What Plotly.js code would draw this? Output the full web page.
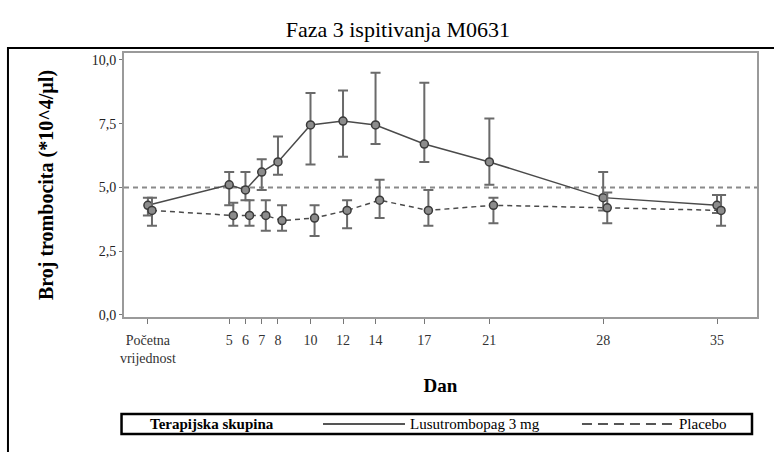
<!DOCTYPE html>
<html>
<head>
<meta charset="utf-8">
<script src="https://cdn.plot.ly/plotly-3.0.1.min.js"></script>
<style>html,body{margin:0;padding:0;background:#fff;}#chart{width:774px;height:452px;}</style>
</head>
<body>
<div id="chart"></div>
<script>
// Days of measurement (0 = baseline)
const days = [0, 5, 6, 7, 8, 10, 12, 14, 17, 21, 28, 35];
const dayLabels = ["Početna<br>vrijednost", "5", "6", "7", "8", "10", "12", "14", "17", "21", "28", "35"];

// Lusutrombopag 3 mg: mean, upper and lower error limits
const lusMean  = [4.3, 5.1, 4.9, 5.6, 6.0, 7.45, 7.6, 7.45, 6.7, 6.0, 4.6, 4.3];
const lusUpper = [4.6, 5.6, 5.6, 6.1, 7.0, 8.7, 8.8, 9.5, 9.1, 7.7, 5.6, 4.7];
const lusLower = [3.9, 4.3, 4.5, 4.9, 5.5, 5.9, 6.2, 6.7, 6.0, 5.1, 4.1, 4.0];

// Placebo: mean, upper and lower error limits
const plaMean  = [4.1, 3.9, 3.9, 3.9, 3.7, 3.8, 4.1, 4.5, 4.1, 4.3, 4.2, 4.1];
const plaUpper = [4.6, 4.4, 4.5, 4.5, 4.3, 4.3, 4.5, 5.3, 4.9, 4.6, 4.8, 4.7];
const plaLower = [3.5, 3.5, 3.5, 3.3, 3.3, 3.1, 3.4, 3.8, 3.5, 3.6, 3.6, 3.5];

const refLine = 5.0;
const yTicks = [0, 2.5, 5, 7.5, 10];
const yTickText = ["0,0", "2,5", "5,0", "7,5", "10,0"];

const seriesNames = ["Lusutrombopag 3 mg", "Placebo"];
const legendTitle = "Terapijska skupina";
const chartTitle = "Faza 3 ispitivanja M0631";
const xTitle = "Dan";
const yTitle = "Broj trombocita (*10^4/µl)";

const FONT = "'Liberation Serif', 'Times New Roman', serif";
const dodge = 0.25;

const errUp = (m, u) => u.map((v, i) => v - m[i]);
const errDn = (m, l) => l.map((v, i) => m[i] - v);

const markerStyle = {symbol: "circle", size: 8, color: "#8c8c8c", line: {color: "#3a3a3a", width: 1.5}};

const traces = [
  {
    x: days, y: lusMean, name: seriesNames[0], type: "scatter", mode: "lines+markers", showlegend: false,
    line: {color: "#4a4a4a", width: 1.5},
    marker: markerStyle,
    error_y: {type: "data", symmetric: false, array: errUp(lusMean, lusUpper), arrayminus: errDn(lusMean, lusLower),
              color: "#6a6a6a", thickness: 2, width: 5}
  },
  {
    x: days.map(d => d + dodge), y: plaMean, name: seriesNames[1], type: "scatter", mode: "lines+markers", showlegend: false,
    line: {color: "#4a4a4a", width: 1.5, dash: "5px,4px"},
    marker: markerStyle,
    error_y: {type: "data", symmetric: false, array: errUp(plaMean, plaUpper), arrayminus: errDn(plaMean, plaLower),
              color: "#6a6a6a", thickness: 2, width: 5}
  }
];

// Legend geometry (paper coordinates)
const LG = {x0: -0.0039, x1: 0.9921, yTop: -0.3674, yBot: -0.4432, yMid: -0.4053,
            titleX: 0.0379, solid: [0.3144, 0.4439], solidText: 0.4487, dashed: [0.7235, 0.8705], dashedText: 0.8736};

const layout = {
  width: 774, height: 452,
  margin: {l: 124, r: 17, t: 53, b: 135},
  paper_bgcolor: "#fff", plot_bgcolor: "#fff",
  font: {family: FONT, size: 14, color: "#000"},
  showlegend: false,
  title: {text: chartTitle, font: {family: FONT, size: 22, color: "#000"}, x: 0.514, xanchor: "center", y: 0.935, yanchor: "middle"},
  xaxis: {
    range: [-1.47, 37.46], tickvals: days, ticktext: dayLabels, tickangle: 0,
    showline: true, mirror: true, linecolor: "#9a9a9a", linewidth: 2,
    ticks: "outside", ticklen: 5, tickcolor: "#777", tickwidth: 1, ticklabelstandoff: 4,
    showgrid: false, zeroline: false,
    tickfont: {family: FONT, size: 14, color: "#333"},
    title: {text: "<b>" + xTitle + "</b>", font: {family: FONT, size: 19, color: "#000"}, standoff: 14}
  },
  yaxis: {
    range: [-0.08, 10.27], tickvals: yTicks, ticktext: yTickText,
    showline: true, mirror: true, linecolor: "#9a9a9a", linewidth: 2,
    ticks: "outside", ticklen: 3, tickcolor: "#777", tickwidth: 1,
    showgrid: false, zeroline: false,
    tickfont: {family: FONT, size: 14, color: "#222"},
    title: {text: "<b>" + yTitle + "</b>", font: {family: FONT, size: 20, color: "#000"}, standoff: 33}
  },
  shapes: [
    {type: "line", xref: "paper", x0: 0, x1: 1, yref: "y", y0: refLine, y1: refLine,
     line: {color: "#8a8a8a", width: 2, dash: "5px,4px"}, layer: "below"},
    {type: "rect", xref: "paper", yref: "paper", x0: -0.1833, x1: 1.3, y0: -0.7, y1: 1.019,
     line: {color: "#000", width: 2}, fillcolor: "rgba(0,0,0,0)"},
    // legend box and keys
    {type: "rect", xref: "paper", yref: "paper", x0: LG.x0, x1: LG.x1, y0: LG.yBot, y1: LG.yTop,
     line: {color: "#000", width: 2.5}, fillcolor: "#fff"},
    {type: "line", xref: "paper", yref: "paper", x0: LG.solid[0], x1: LG.solid[1], y0: LG.yMid, y1: LG.yMid,
     line: {color: "#555", width: 2}},
    {type: "line", xref: "paper", yref: "paper", x0: LG.dashed[0], x1: LG.dashed[1], y0: LG.yMid, y1: LG.yMid,
     line: {color: "#555", width: 2, dash: "10px,6px"}}
  ],
  annotations: [
    {xref: "paper", yref: "paper", x: LG.titleX, y: LG.yMid, xanchor: "left", yanchor: "middle", showarrow: false,
     text: "<b>" + legendTitle + "</b>", font: {family: FONT, size: 15, color: "#000"}},
    {xref: "paper", yref: "paper", x: LG.solidText, y: LG.yMid, xanchor: "left", yanchor: "middle", showarrow: false,
     text: seriesNames[0], font: {family: FONT, size: 15, color: "#000"}},
    {xref: "paper", yref: "paper", x: LG.dashedText, y: LG.yMid, xanchor: "left", yanchor: "middle", showarrow: false,
     text: seriesNames[1], font: {family: FONT, size: 15, color: "#000"}}
  ]
};

Plotly.newPlot("chart", traces, layout, {displayModeBar: false, staticPlot: true});
</script>
</body>
</html>
